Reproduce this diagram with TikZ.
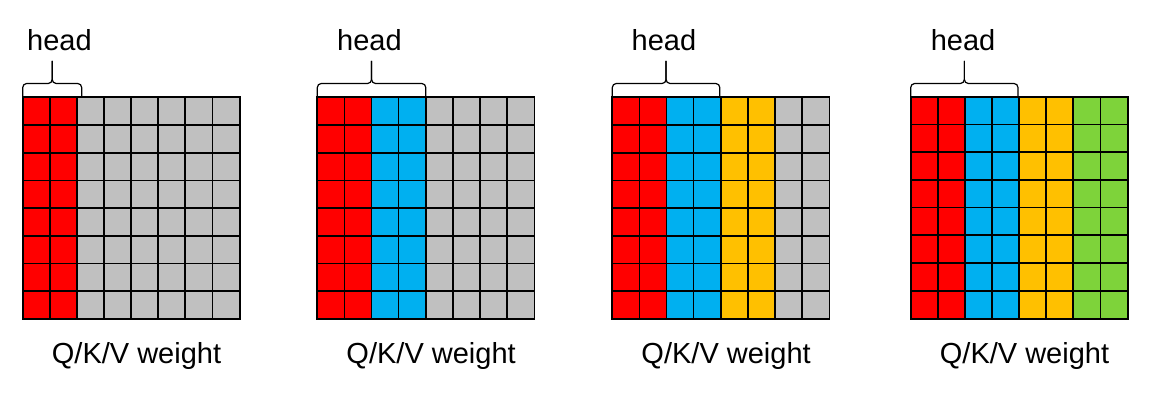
\documentclass[tikz,border=0pt]{standalone}
\usepackage{fontspec}
\setmainfont{Liberation Sans}
\usetikzlibrary{positioning}
\definecolor{headc1}{RGB}{255,0,0}
\definecolor{headc2}{RGB}{0,176,240}
\definecolor{headc3}{RGB}{255,192,0}
\definecolor{headc4}{RGB}{126,211,58}
\definecolor{cellgray}{RGB}{192,192,192}

\begin{document}
\begin{tikzpicture}[
    x=1pt, y=-1pt,
    every node/.style={font=\fontsize{29}{33}\selectfont},
    weight/.style={rectangle, inner sep=0pt, minimum width=216.8pt, minimum height=221.6pt, anchor=north west},
    gridline/.style={draw=black, line width=1.7pt},
    brace/.style={draw=black, line width=1.2pt, rounded corners=4pt},
    caption/.style={anchor=base, inner sep=0pt}
]
\useasboundingbox (0,0) rectangle (1160,404);
\def\cw{27.1}
\def\ch{27.7}
\foreach \gx/\gy/\bw/\hx [count=\i] in {22.7/97.3/59/59.5, 317.3/97.3/108.5/369.5, 612.3/97.3/107.5/664, 910.7/96.8/107.3/963} {
  % weight matrix
  \node (w\i) [weight] at (\gx,\gy) {};
  \foreach \c in {0,...,7} {
    \pgfmathtruncatemacro\p{\c/2+1}
    \ifnum\p>\i \def\col{cellgray}\else\edef\col{headc\p}\fi
    \fill[\col] (\gx+\c*\cw,\gy) rectangle ++(\cw,8*\ch);
  }
  \foreach \k in {1,...,7} {
    \draw[gridline] (\gx+\k*\cw,\gy) -- ++(0,8*\ch);
    \draw[gridline] (\gx,\gy+\k*\ch) -- ++(8*\cw,0);
  }
  \draw[gridline] (w\i.north west) rectangle (w\i.south east);
  % brace over the heads
  \pgfmathsetmacro\bm{\gx+\bw/2}
  \coordinate (tip\i) at (\bm,61);
  \draw[brace] (w\i.north west) -- (\gx,83.5) -- (\bm,83.5) -- (tip\i);
  \draw[brace] (\gx+\bw,\gy) -- (\gx+\bw,83.5) -- (\bm,83.5) -- (tip\i);
  \node (h\i) [caption] at (\hx,50.5) {head};
  \node (q\i) [caption] at (\gx+113.8,363) {Q/K/V weight};
}
\end{tikzpicture}
\end{document}
